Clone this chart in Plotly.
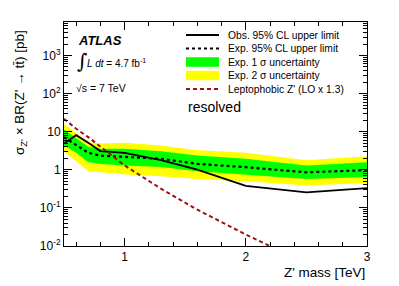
import plotly.graph_objects as go

# ---- data ----
mass = [0.5, 0.6, 0.7, 0.8, 1.0, 1.3, 1.6, 2.0, 2.5, 3.0]
obs = [4.9, 8.1, 5.1, 3.1, 2.8, 1.8, 1.01, 0.38, 0.255, 0.33]
exp = [7.2, 4.5, 2.8, 2.35, 2.2, 1.95, 1.43, 1.17, 0.86, 0.98]
one_up = [11.5, 6.9, 4.0, 3.55, 3.55, 3.08, 2.37, 1.94, 1.29, 1.58]
one_dn = [4.35, 2.8, 1.58, 1.43, 1.29, 1.19, 0.91, 0.75, 0.575, 0.65]
two_up = [15.6, 9.4, 5.3, 4.9, 5.1, 4.35, 3.27, 2.8, 1.78, 2.27]
two_dn = [3.08, 1.68, 0.91, 0.86, 0.75, 0.675, 0.575, 0.50, 0.39, 0.45]
zprime = [22.0, 12.0, 7.2, 4.0, 1.3, 0.32, 0.09, 0.02, 0.0035, 0.0008]

ytick_vals = [0.01, 0.1, 1, 10, 100, 1000]
ytick_text = ["10<sup>-2</sup>", "10<sup>-1</sup>", "1", "10", "10<sup>2</sup>", "10<sup>3</sup>"]
xtick_vals = [1, 2, 3]
xtick_text = ["1", "2", "3"]

legend_labels = ["Obs. 95% CL upper limit", "Exp. 95% CL upper limit",
                 "Exp. 1 σ uncertainty", "Exp. 2 σ uncertainty",
                 "Leptophobic Z' (LO x 1.3)"]

YELLOW = "#ffff00"
GREEN = "#00ff00"
RED = "#a01010"
FONT = "Liberation Sans, Arial, sans-serif"

fig = go.Figure()
fig.add_trace(go.Scatter(x=mass + mass[::-1], y=two_up + two_dn[::-1], fill="toself",
                         fillcolor=YELLOW, line=dict(width=0), mode="lines",
                         hoverinfo="skip", showlegend=False))
fig.add_trace(go.Scatter(x=mass + mass[::-1], y=one_up + one_dn[::-1], fill="toself",
                         fillcolor=GREEN, line=dict(width=0), mode="lines",
                         hoverinfo="skip", showlegend=False))
fig.add_trace(go.Scatter(x=mass, y=exp, mode="lines",
                         line=dict(color="black", width=2.2, dash="dot"), showlegend=False))
fig.add_trace(go.Scatter(x=mass, y=obs, mode="lines",
                         line=dict(color="black", width=1.8), showlegend=False))
fig.add_trace(go.Scatter(x=mass, y=zprime, mode="lines",
                         line=dict(color=RED, width=2, dash="4px,3px"), showlegend=False))

# page offset (browser body margin) and plot-area geometry in page pixels
OFF = 8
W, H = 399 - OFF, 286 - OFF
L, R, T, B = 64, 367, 22, 246
PW, PH = R - L, B - T


def px(x):
    return (x - L) / PW


def py(y):
    return (B - y) / PH


shapes = []
annotations = []

# manual legend
rows = [35, 48.5, 62, 75.5, 89]
sx0, sx1 = 186, 219
styles = [("line", "black", "solid", 1.8), ("line", "black", "dot", 2.2),
          ("rect", GREEN, None, None), ("rect", YELLOW, None, None),
          ("line", RED, "4px,3px", 2)]
for yc, (kind, col, dash, w), lab in zip(rows, styles, legend_labels):
    if kind == "line":
        shapes.append(dict(type="line", xref="paper", yref="paper",
                           x0=px(sx0), x1=px(sx1), y0=py(yc), y1=py(yc),
                           line=dict(color=col, width=w, dash=dash)))
    else:
        shapes.append(dict(type="rect", xref="paper", yref="paper",
                           x0=px(sx0), x1=px(sx1), y0=py(yc - 4.7), y1=py(yc + 4.7),
                           fillcolor=col, line=dict(width=0)))
    annotations.append(dict(text=lab, xref="paper", yref="paper", x=px(226), y=py(yc),
                            xanchor="left", yanchor="middle", showarrow=False,
                            font=dict(size=10.3, color="black", family=FONT)))

annotations += [
    dict(text="resolved", xref="paper", yref="paper", x=px(186), y=py(107),
         xanchor="left", yanchor="middle", showarrow=False,
         font=dict(size=14, color="black", family=FONT)),
    dict(text="<b><i>ATLAS</i></b>", xref="paper", yref="paper", x=px(76), y=py(40),
         xanchor="left", yanchor="middle", showarrow=False,
         font=dict(size=13, color="black", family=FONT)),
    dict(text="∫", xref="paper", yref="paper", x=px(75), y=py(61),
         xanchor="left", yanchor="middle", showarrow=False,
         font=dict(size=20, color="black", family="DejaVu Serif")),
    dict(text="<i>L dt</i> = 4.7 fb<sup>-1</sup>", xref="paper", yref="paper", x=px(85), y=py(63),
         xanchor="left", yanchor="middle", showarrow=False,
         font=dict(size=10, color="black", family=FONT)),
    dict(text="√s = 7 TeV", xref="paper", yref="paper", x=px(74), y=py(88),
         xanchor="left", yanchor="middle", showarrow=False,
         font=dict(size=10.5, color="black", family=FONT)),
    dict(text="Z' mass [TeV]", xref="paper", yref="paper", x=1.0, y=py(272),
         xanchor="right", yanchor="middle", showarrow=False,
         font=dict(size=13.5, color="black", family=FONT)),
    dict(text="σ<sub>Z'</sub> × BR(Z' → tt\u0304) [pb]", xref="paper", yref="paper",
         x=px(10), y=py(28), xanchor="left", yanchor="top", textangle=-90,
         showarrow=False, font=dict(size=13.5, color="black", family=FONT)),
]

ymin_minor = []
for k in range(-2, 4):
    for d in range(2, 10):
        v = d * 10 ** k
        if v < 7600:
            ymin_minor.append(v)
xmin_minor = [round(0.6 + 0.2 * i, 2) for i in range(13)]

fig.update_layout(
    width=W, height=H,
    margin=dict(l=L - OFF, r=399 - R, t=T - OFF, b=286 - B),
    paper_bgcolor="white", plot_bgcolor="white",
    shapes=shapes, annotations=annotations,
    font=dict(family=FONT, color="black"),
    showlegend=False,
    xaxis=dict(range=[0.5, 3], showgrid=False, zeroline=False, showline=True,
               linecolor="black", linewidth=1, mirror="ticks", ticks="inside",
               ticklen=8, tickcolor="black", tickvals=xtick_vals, ticktext=xtick_text,
               tickfont=dict(size=12, family=FONT),
               minor=dict(tickvals=xmin_minor, ticks="inside", ticklen=4,
                          tickcolor="black", showgrid=False)),
    yaxis=dict(type="log", range=[-2, 3.88], showgrid=False, zeroline=False, showline=True,
               linecolor="black", linewidth=1, mirror="ticks", ticks="inside",
               ticklen=8, tickcolor="black", tickvals=ytick_vals, ticktext=ytick_text,
               tickfont=dict(size=12, family=FONT),
               minor=dict(tickvals=ymin_minor, ticks="inside", ticklen=4,
                          tickcolor="black", showgrid=False)),
)

fig.write_html("out.html")
